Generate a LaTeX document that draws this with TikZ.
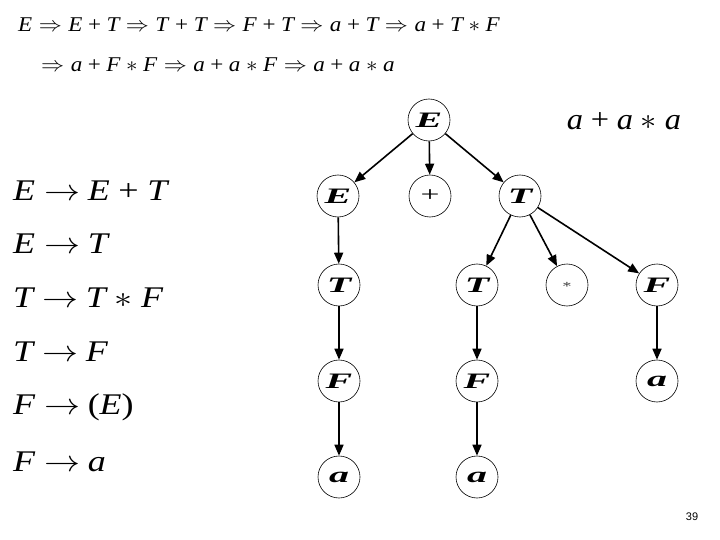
\RequirePackage{fix-cm}
\documentclass[tikz,border=0pt]{standalone}
\usepackage{fontspec}
\setmainfont{Liberation Serif}
\newfontfamily\pgnum{Liberation Sans}
\usetikzlibrary{arrows.meta}
\newcommand\Rr{\hspace{0.28em}$\Rightarrow$\hspace{0.28em}}
\newcommand\Ra{\hspace{0.26em}$\rightarrow$\hspace{0.2em}}
\newcommand\pl{\hspace{0.24em}\textup{+}\hspace{0.24em}}
\newcommand\st{\hspace{0.24em}$*$\hspace{0.24em}}
\newcommand\nl[1]{\scalebox{1.9}[1.05]{\bfseries\itshape #1}}
\newcommand\wide[2]{\scalebox{#1}[1]{#2}}
\begin{document}
\begin{tikzpicture}[x=1pt,y=-1pt,
  tn/.style={circle,draw,line width=0.6pt,minimum size=42pt,inner sep=0pt,font=\fontsize{21}{21}\selectfont},
  ar/.style={line width=1.6pt,-{Triangle[length=11pt,width=9pt]}},
  deriv/.style={anchor=west,inner sep=0pt,font=\fontsize{21}{21}\selectfont\itshape},
  rule/.style={anchor=west,inner sep=0pt,font=\fontsize{30}{30}\selectfont\itshape}]
\useasboundingbox (0,0) rectangle (720,540);
% derivation
\node[deriv] (d1) at (18,25) {\wide{1.1}{E\Rr E\pl T\Rr T\pl T\Rr F\pl T\Rr a\pl T\Rr a\pl T\st F}};
\node[deriv] (d2) at (41,65) {\wide{1.1}{$\Rightarrow$\hspace{0.28em}a\pl F\st F\Rr a\pl a\st F\Rr a\pl a\st a}};
% rules
\node[rule] (r1) at (13,191) {\wide{1.2}{E\Ra E\pl T}};
\node[rule] (r2) at (13,244) {\wide{1.2}{E\Ra T}};
\node[rule] (r3) at (13,298) {\wide{1.2}{T\Ra T\st F}};
\node[rule] (r4) at (13,352) {\wide{1.2}{T\Ra F}};
\node[rule] (r5) at (13,407) {\wide{1.2}{F\Ra \textup{(}E\textup{)}}};
\node[rule] (r6) at (13,462) {\wide{1.2}{F\Ra a}};
% sentence
\node[anchor=center,inner sep=0pt,font=\fontsize{30}{30}\selectfont\itshape] (s) at (624,121) {\wide{1.08}{a\pl a\st a}};
% tree
\node[tn] (E0) at (429,120) {\nl{E}};
\node[tn] (E1) at (338,196) {\nl{E}};
\node[tn] (P1) at (430,196) {\scalebox{1.6}[1]{+}};
\node[tn] (T1) at (520,196) {\nl{T}};
\node[tn] (T2) at (339,285) {\nl{T}};
\node[tn] (T3) at (477,285) {\nl{T}};
\node[tn] (S3) at (567,285) {\scalebox{1.4}[0.8]{\fontsize{14}{14}\selectfont$*$}};
\node[tn] (F3) at (657,285) {\nl{F}};
\node[tn] (F4) at (339,381) {\nl{F}};
\node[tn] (F5) at (477,381) {\nl{F}};
\node[tn] (A6) at (657,381) {\nl{a}};
\node[tn] (A7) at (339,477) {\nl{a}};
\node[tn] (A8) at (477,477) {\nl{a}};
\draw[ar] (E0) -- (E1);
\draw[ar] (E0) -- (P1);
\draw[ar] (E0) -- (T1);
\draw[ar] (E1) -- (T2);
\draw[ar] (T1) -- (T3);
\draw[ar] (T1) -- (S3);
\draw[ar] (T1) -- (F3);
\draw[ar] (T2) -- (F4);
\draw[ar] (T3) -- (F5);
\draw[ar] (F3) -- (A6);
\draw[ar] (F4) -- (A7);
\draw[ar] (F5) -- (A8);
\node[inner sep=0pt,font=\pgnum\fontsize{11}{11}\selectfont] (pg) at (692,517) {39};
\end{tikzpicture}
\end{document}
